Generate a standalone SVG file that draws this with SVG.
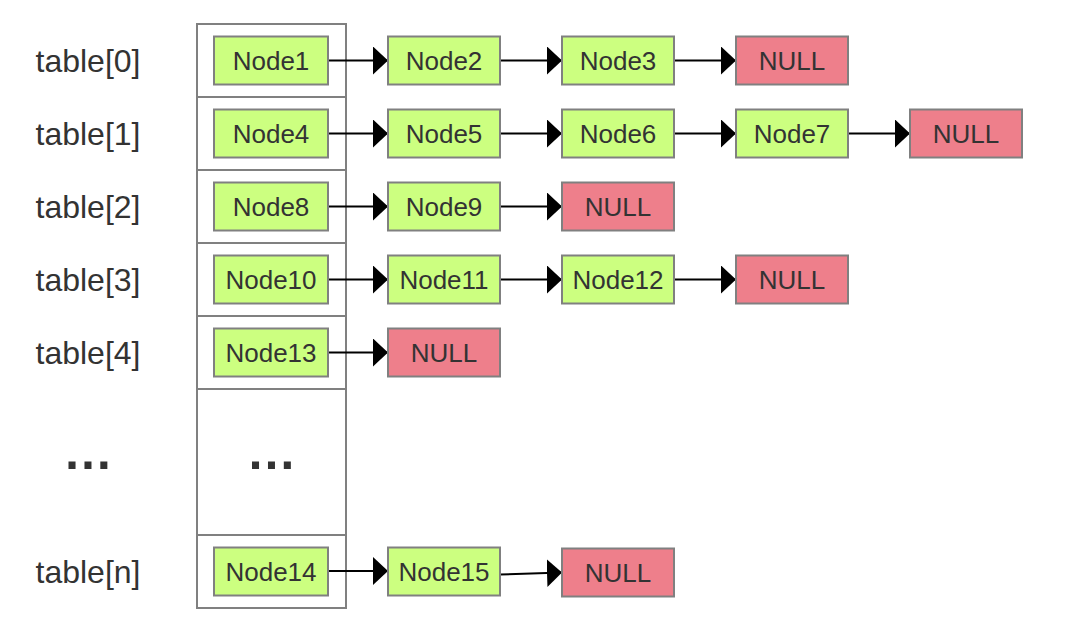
<svg xmlns="http://www.w3.org/2000/svg" width="1080" height="629" viewBox="0 0 1080 629">
<style>
.cell{fill:#ffffff;stroke:#808080;stroke-width:2}
.n{fill:#ccff80;stroke:#808080;stroke-width:2}
.nul{fill:#ee7f8b;stroke:#808080;stroke-width:2}
.t{font-family:"Liberation Sans",Arial,sans-serif;font-size:26px;fill:#333333;text-anchor:middle}
.lbl{font-family:"Liberation Sans",Arial,sans-serif;font-size:32px;fill:#333333;text-anchor:middle}
.dots{font-family:"Liberation Sans",Arial,sans-serif;font-size:50px;font-weight:bold;fill:#333333;text-anchor:middle}
.c{stroke:#000000;stroke-width:2;fill:none;marker-end:url(#ah)}
</style>
<defs>
<marker id="ah" markerUnits="userSpaceOnUse" markerWidth="16" markerHeight="28" refX="15" refY="14" orient="auto">
<path d="M0,0 L15,14 L0,28 Z" fill="#000000"/>
</marker>
</defs>
<rect width="1080" height="629" fill="#ffffff"/>
<g id="labels">
<text class="lbl" x="88" y="72">table[0]</text>
<text class="lbl" x="88" y="145">table[1]</text>
<text class="lbl" x="88" y="218">table[2]</text>
<text class="lbl" x="88" y="291">table[3]</text>
<text class="lbl" x="88" y="364">table[4]</text>
<text class="dots" x="88" y="469">…</text>
<text class="lbl" x="88" y="583">table[n]</text>
</g>
<g id="table">
<rect class="cell" x="197" y="24" width="149" height="73"/>
<rect class="cell" x="197" y="97" width="149" height="73"/>
<rect class="cell" x="197" y="170" width="149" height="73"/>
<rect class="cell" x="197" y="243" width="149" height="73"/>
<rect class="cell" x="197" y="316" width="149" height="73"/>
<rect class="cell" x="197" y="389" width="149" height="146"/>
<rect class="cell" x="197" y="535" width="149" height="73"/>
<text class="dots" x="271.5" y="469">…</text>
</g>
<g id="connectors">
<line class="c" x1="328" y1="60.5" x2="388" y2="60.5"/>
<line class="c" x1="500" y1="60.5" x2="562" y2="60.5"/>
<line class="c" x1="674" y1="60.5" x2="736" y2="60.5"/>
<line class="c" x1="328" y1="133.5" x2="388" y2="133.5"/>
<line class="c" x1="500" y1="133.5" x2="562" y2="133.5"/>
<line class="c" x1="674" y1="133.5" x2="736" y2="133.5"/>
<line class="c" x1="848" y1="133.5" x2="910" y2="133.5"/>
<line class="c" x1="328" y1="206.5" x2="388" y2="206.5"/>
<line class="c" x1="500" y1="206.5" x2="562" y2="206.5"/>
<line class="c" x1="328" y1="279.5" x2="388" y2="279.5"/>
<line class="c" x1="500" y1="279.5" x2="562" y2="279.5"/>
<line class="c" x1="674" y1="279.5" x2="736" y2="279.5"/>
<line class="c" x1="328" y1="352.5" x2="388" y2="352.5"/>
<line class="c" x1="328" y1="571" x2="388" y2="571"/>
<line class="c" x1="500" y1="574.5" x2="562" y2="572.5"/>
</g>
<g id="node1"><rect class="n" x="214" y="36.5" width="114" height="48"/><text class="t" x="271" y="69.5">Node1</text></g>
<g id="node2"><rect class="n" x="388" y="36.5" width="112" height="48"/><text class="t" x="444" y="69.5">Node2</text></g>
<g id="node3"><rect class="n" x="562" y="36.5" width="112" height="48"/><text class="t" x="618" y="69.5">Node3</text></g>
<g id="null0"><rect class="nul" x="736" y="36.5" width="112" height="48"/><text class="t" x="792" y="69.5">NULL</text></g>
<g id="node4"><rect class="n" x="214" y="109.5" width="114" height="48"/><text class="t" x="271" y="142.5">Node4</text></g>
<g id="node5"><rect class="n" x="388" y="109.5" width="112" height="48"/><text class="t" x="444" y="142.5">Node5</text></g>
<g id="node6"><rect class="n" x="562" y="109.5" width="112" height="48"/><text class="t" x="618" y="142.5">Node6</text></g>
<g id="node7"><rect class="n" x="736" y="109.5" width="112" height="48"/><text class="t" x="792" y="142.5">Node7</text></g>
<g id="null1"><rect class="nul" x="910" y="109.5" width="112" height="48"/><text class="t" x="966" y="142.5">NULL</text></g>
<g id="node8"><rect class="n" x="214" y="182.5" width="114" height="48"/><text class="t" x="271" y="215.5">Node8</text></g>
<g id="node9"><rect class="n" x="388" y="182.5" width="112" height="48"/><text class="t" x="444" y="215.5">Node9</text></g>
<g id="null2"><rect class="nul" x="562" y="182.5" width="112" height="48"/><text class="t" x="618" y="215.5">NULL</text></g>
<g id="node10"><rect class="n" x="214" y="255.5" width="114" height="48"/><text class="t" x="271" y="288.5">Node10</text></g>
<g id="node11"><rect class="n" x="388" y="255.5" width="112" height="48"/><text class="t" x="444" y="288.5">Node11</text></g>
<g id="node12"><rect class="n" x="562" y="255.5" width="112" height="48"/><text class="t" x="618" y="288.5">Node12</text></g>
<g id="null3"><rect class="nul" x="736" y="255.5" width="112" height="48"/><text class="t" x="792" y="288.5">NULL</text></g>
<g id="node13"><rect class="n" x="214" y="328.5" width="114" height="48"/><text class="t" x="271" y="361.5">Node13</text></g>
<g id="null4"><rect class="nul" x="388" y="328.5" width="112" height="48"/><text class="t" x="444" y="361.5">NULL</text></g>
<g id="node14"><rect class="n" x="214" y="547.5" width="114" height="48"/><text class="t" x="271" y="580.5">Node14</text></g>
<g id="node15"><rect class="n" x="388" y="547.5" width="112" height="48"/><text class="t" x="444" y="580.5">Node15</text></g>
<g id="nulln"><rect class="nul" x="562" y="548.5" width="112" height="48"/><text class="t" x="618" y="581.5">NULL</text></g>
</svg>
